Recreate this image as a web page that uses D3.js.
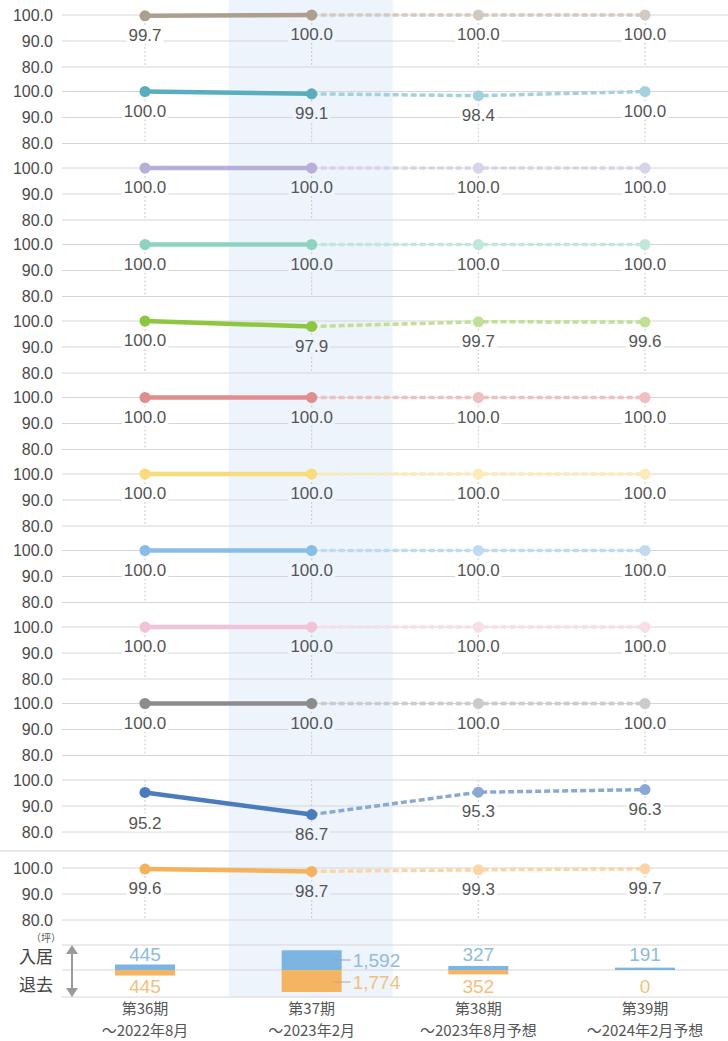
<!DOCTYPE html>
<html><head><meta charset="utf-8">
<script src="https://cdn.jsdelivr.net/npm/d3@7"></script>
<style>body{margin:0;background:#fff}</style>
</head><body><svg id="c" width="728" height="1041"></svg>
<script>
// ---------- data ----------
const periods = ["第36期", "第37期", "第38期", "第39期"];
const periodDates = ["～2022年8月", "～2023年2月", "～2023年8月予想", "～2024年2月予想"];
const yTickValues = [100, 90, 80];
const occ01 = [99.7, 100.0, 100.0, 100.0];
const occ02 = [100.0, 99.1, 98.4, 100.0];
const occ03 = [100.0, 100.0, 100.0, 100.0];
const occ04 = [100.0, 100.0, 100.0, 100.0];
const occ05 = [100.0, 97.9, 99.7, 99.6];
const occ06 = [100.0, 100.0, 100.0, 100.0];
const occ07 = [100.0, 100.0, 100.0, 100.0];
const occ08 = [100.0, 100.0, 100.0, 100.0];
const occ09 = [100.0, 100.0, 100.0, 100.0];
const occ10 = [100.0, 100.0, 100.0, 100.0];
const occ11 = [95.2, 86.7, 95.3, 96.3];
const occ12 = [99.6, 98.7, 99.3, 99.7];
const moveIn = [445, 1592, 327, 191];
const moveOut = [445, 1774, 352, 0];
const flowLabels = ["入居", "退去"];
const unitLabel = "（坪）";

// ---------- styles ----------
const seriesList = [occ01, occ02, occ03, occ04, occ05, occ06, occ07, occ08, occ09, occ10, occ11, occ12];
const palette = ["#ad9f8e", "#5aacbf", "#b6b0d8", "#8dd4c0", "#8dc63f", "#e08d8d",
                 "#f8dc7c", "#8abde6", "#f0c3d6", "#8c8c8c", "#4a7bbd", "#f5b25c"];
const futureMix = [0.45, 0.45, 0.45, 0.45, 0.45, 0.45, 0.45, 0.45, 0.45, 0.55, 0.35, 0.45];
const bandFill = "#eef4fc";
const gridColor = "#d6d6d6";
const numFont = "'Liberation Sans', Arial, sans-serif";
const jpFont = "'Noto Sans CJK JP', sans-serif";

const svg = d3.select("#c");
const x = d3.scalePoint().domain(periods).range([145, 645]);
const panelTop = k => k < 11 ? 15 + k * 76.5 : 868;
const labelNudge = {"10-0": 11};

svg.append("rect").attr("x", x(periods[1]) - 83).attr("y", 0)
  .attr("width", 164).attr("height", 997).attr("fill", bandFill);

svg.append("line").attr("x1", 0).attr("x2", 728).attr("y1", 851).attr("y2", 851)
  .attr("stroke", "#d0d0d0").attr("stroke-width", 1.2);

seriesList.forEach((vals, k) => {
  const top = panelTop(k);
  const y = d3.scaleLinear().domain([80, 100]).range([top + 52, top]);
  const g = svg.append("g");
  g.selectAll("line.grid").data(yTickValues).join("line")
    .attr("x1", 62).attr("x2", 728).attr("y1", d => y(d)).attr("y2", d => y(d))
    .attr("stroke", gridColor).attr("stroke-width", 1);
  g.selectAll("text.tick").data(yTickValues).join("text")
    .attr("x", 53).attr("y", d => y(d)).attr("dy", "0.36em")
    .attr("text-anchor", "end").attr("font-family", numFont).attr("font-size", 16)
    .attr("fill", "#4a4a4a").text(d => d3.format(".1f")(d));
  g.selectAll("line.vd").data(periods).join("line")
    .attr("x1", d => x(d)).attr("x2", d => x(d)).attr("y1", y(100)).attr("y2", y(80))
    .attr("stroke", "#c8c8c8").attr("stroke-dasharray", "2,2").attr("stroke-width", 1);
  const pts = vals.map((v, i) => ({p: periods[i], v, i}));
  pts.forEach(d => {
    const cy = y(d.v) + 19 + (labelNudge[k + "-" + d.i] || 0);
    const t = g.append("text").attr("x", x(d.p)).attr("y", cy).attr("dy", "0.36em")
      .attr("text-anchor", "middle").attr("font-family", numFont).attr("font-size", 17)
      .attr("fill", "#555").text(d3.format(".1f")(d.v));
    const w = t.node().getComputedTextLength();
    g.insert("rect", () => t.node()).attr("x", x(d.p) - w / 2 - 2).attr("y", cy - 9)
      .attr("width", w + 4).attr("height", 18).attr("fill", d.i === 1 ? bandFill : "#fff");
  });
  const col = palette[k];
  const light = d3.interpolateRgb(col, "#ffffff")(futureMix[k]);
  const line = d3.line().x(d => x(d.p)).y(d => y(d.v));
  g.append("path").datum(pts.slice(1)).attr("d", line).attr("fill", "none")
    .attr("stroke", light).attr("stroke-width", 3.5).attr("stroke-dasharray", "6,3");
  g.append("path").datum(pts.slice(0, 2)).attr("d", line).attr("fill", "none")
    .attr("stroke", col).attr("stroke-width", 4.5);
  g.selectAll("circle").data(pts).join("circle")
    .attr("cx", d => x(d.p)).attr("cy", d => y(d.v)).attr("r", 5.5)
    .attr("fill", d => d.i < 2 ? col : light);
});

// ---------- move-in / move-out bars ----------
const base = 970;
const h = d3.scaleLinear().domain([0, 1774]).range([0, 22]);
[945, 970, 997].forEach(yy => svg.append("line").attr("x1", 62).attr("x2", 728)
  .attr("y1", yy).attr("y2", yy).attr("stroke", gridColor).attr("stroke-width", 1));
const barW = 60;
const inCol = "#7cb4e2", outCol = "#f5b461", inTxt = "#8dbbe2", outTxt = "#f3c07c";
svg.selectAll("rect.in").data(periods).join("rect")
  .attr("x", d => x(d) - barW / 2).attr("width", barW)
  .attr("y", (d, i) => base - h(moveIn[i])).attr("height", (d, i) => h(moveIn[i]))
  .attr("fill", inCol);
svg.selectAll("rect.out").data(periods).join("rect")
  .attr("x", d => x(d) - barW / 2).attr("width", barW)
  .attr("y", base).attr("height", (d, i) => h(moveOut[i]))
  .attr("fill", outCol);
const fmt = d3.format(",");
periods.forEach((p, i) => {
  if (i === 1) {
    const lx = x(p) + 21;
    svg.append("line").attr("x1", lx).attr("x2", lx + 18).attr("y1", 960).attr("y2", 960)
      .attr("stroke", "#8aa6bf").attr("stroke-width", 1);
    svg.append("line").attr("x1", lx).attr("x2", lx + 18).attr("y1", 982).attr("y2", 982)
      .attr("stroke", "#c9a676").attr("stroke-width", 1);
    svg.append("text").attr("x", lx + 20).attr("y", 960).attr("dy", "0.36em")
      .attr("font-family", numFont).attr("font-size", 19).attr("fill", inTxt).text(fmt(moveIn[i]));
    svg.append("text").attr("x", lx + 20).attr("y", 982).attr("dy", "0.36em")
      .attr("font-family", numFont).attr("font-size", 19).attr("fill", outTxt).text(fmt(moveOut[i]));
  } else {
    svg.append("text").attr("x", x(p)).attr("y", 954).attr("dy", "0.36em").attr("text-anchor", "middle")
      .attr("font-family", numFont).attr("font-size", 19).attr("fill", inTxt).text(fmt(moveIn[i]));
    svg.append("text").attr("x", x(p)).attr("y", 986).attr("dy", "0.36em").attr("text-anchor", "middle")
      .attr("font-family", numFont).attr("font-size", 19).attr("fill", outTxt).text(fmt(moveOut[i]));
  }
});
svg.append("text").attr("x", 46).attr("y", 938).attr("dy", "0.36em").attr("text-anchor", "middle")
  .attr("font-family", jpFont).attr("font-size", 10).attr("fill", "#555").text(unitLabel);
svg.append("text").attr("x", 36).attr("y", 957).attr("dy", "0.36em").attr("text-anchor", "middle")
  .attr("font-family", jpFont).attr("font-size", 17).attr("fill", "#444").text(flowLabels[0]);
svg.append("text").attr("x", 36).attr("y", 985).attr("dy", "0.36em").attr("text-anchor", "middle")
  .attr("font-family", jpFont).attr("font-size", 17).attr("fill", "#444").text(flowLabels[1]);
const ax = 72;
svg.append("line").attr("x1", ax).attr("x2", ax).attr("y1", 950).attr("y2", 992)
  .attr("stroke", "#9a9a9a").attr("stroke-width", 2);
svg.append("path").attr("d", `M${ax - 6},954 L${ax},945 L${ax + 6},954 Z`).attr("fill", "#9a9a9a");
svg.append("path").attr("d", `M${ax - 6},988 L${ax},997 L${ax + 6},988 Z`).attr("fill", "#9a9a9a");

svg.selectAll("text.p1").data(periods).join("text")
  .attr("x", d => x(d)).attr("y", 1009).attr("dy", "0.36em").attr("text-anchor", "middle")
  .attr("font-family", jpFont).attr("font-size", 15).attr("fill", "#555").text(d => d);
svg.selectAll("text.p2").data(periodDates).join("text")
  .attr("x", (d, i) => x(periods[i])).attr("y", 1031).attr("dy", "0.36em").attr("text-anchor", "middle")
  .attr("font-family", jpFont).attr("font-size", 15).attr("fill", "#555").text(d => d);
</script>
</body></html>
